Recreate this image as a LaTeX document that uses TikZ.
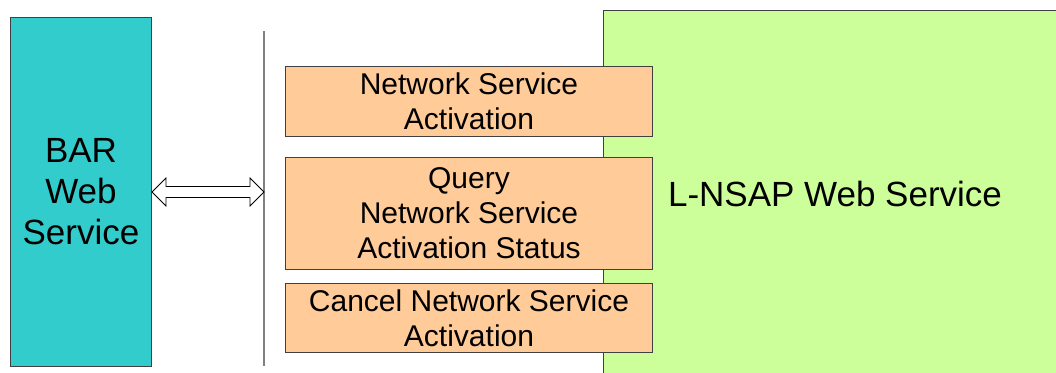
\documentclass[tikz,border=0pt]{standalone}
\usepackage{fontspec}
\setmainfont{Liberation Sans}
\usetikzlibrary{calc}
\definecolor{barfill}{HTML}{33CCCC}
\definecolor{nsapfill}{HTML}{CCFF99}
\definecolor{opfill}{HTML}{FFCC99}
\definecolor{edge}{HTML}{404040}
\definecolor{rulegray}{HTML}{808080}
\begin{document}
\begin{tikzpicture}[x=1pt, y=-1pt,
  service/.style={draw=edge, line width=1pt, rectangle, inner sep=0pt,
    align=center, font=\fontsize{35}{41}\selectfont},
  opbox/.style={draw=edge, line width=1pt, fill=opfill, rectangle, inner sep=0pt,
    minimum width=367pt, align=center, font=\fontsize{30}{35}\selectfont},
  blockarrow/.style={draw=black, line width=0.8pt, fill=white, line join=miter}
]
\useasboundingbox (0,0) rectangle (1056,372);
\clip (0,0) rectangle (1056,372);

% provider service, running past the right and bottom edges
\node[service, fill=nsapfill, minimum width=463pt, minimum height=366pt,
      anchor=north west] (lnsap) at (603,10) {L-NSAP Web Service};

% consumer service
\node[service, fill=barfill, minimum width=141pt, minimum height=349pt,
      anchor=north west] (bar) at (10,17) {BAR\\Web\\Service};

% interface boundary
\coordinate (ruletop) at (264,31);
\coordinate (rulebot) at (264,366);
\draw[rulegray, line width=1.5pt] (ruletop) -- (rulebot);

% operations offered at the interface
\node[opbox, minimum height=70pt, anchor=north west] (activate) at (285,66)
  {Network Service\\Activation};
\node[opbox, minimum height=112pt, anchor=north west] (query) at (285,157)
  {Query\\Network Service\\Activation Status};
\node[opbox, minimum height=69pt, anchor=north west] (cancel) at (285,283)
  {Cancel Network Service\\Activation};

% two-way block arrow between the service and the boundary
\coordinate (l) at (bar.east);
\coordinate (r) at (bar.east -| ruletop);
\draw[blockarrow]
  (l) -- ($(l)+(14,-14)$) -- ($(l)+(14,-5.5)$) -- ($(r)+(-14,-5.5)$)
  -- ($(r)+(-14,-14)$) -- (r) -- ($(r)+(-14,14)$) -- ($(r)+(-14,5.5)$)
  -- ($(l)+(14,5.5)$) -- ($(l)+(14,14)$) -- cycle;
\end{tikzpicture}
\end{document}
